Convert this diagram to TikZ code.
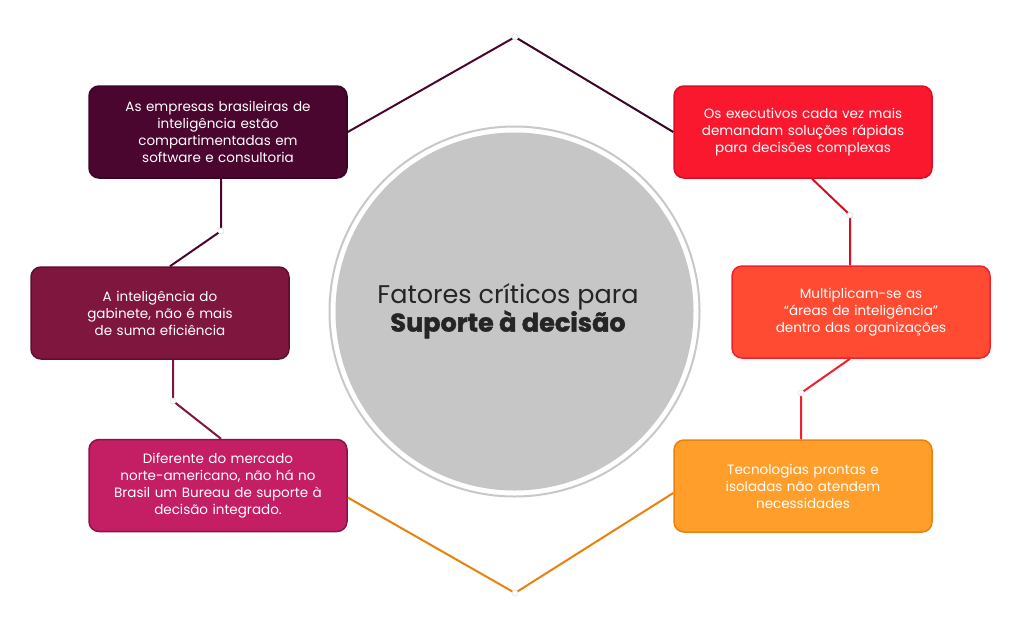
\documentclass[tikz,border=0pt]{standalone}
\usepackage{fontspec}
\setmainfont{Poppins}
\newfontfamily\heavyfont{Poppins}[UprightFont=*-Bold, FakeBold=1.6]
\usetikzlibrary{calc}
\definecolor{cA}{HTML}{4B0630}
\definecolor{cAb}{HTML}{3A0425}
\definecolor{cB}{HTML}{F9182E}
\definecolor{cBb}{HTML}{D80F22}
\definecolor{cC}{HTML}{7E163E}
\definecolor{cCb}{HTML}{5E0F2E}
\definecolor{cD}{HTML}{FF4B32}
\definecolor{cDb}{HTML}{F0202E}
\definecolor{cE}{HTML}{C41E64}
\definecolor{cEb}{HTML}{8A1545}
\definecolor{cF}{HTML}{FF9E2B}
\definecolor{cFb}{HTML}{E8820C}
\definecolor{ring}{HTML}{C8C8C8}
\definecolor{disk}{HTML}{C6C6C6}
\definecolor{ttl}{HTML}{252525}
\tikzset{
  factbox/.style={rounded corners=10pt, line width=1.5pt, minimum width=258pt, minimum height=92pt,
    text width=240pt, align=center, text=white, font=\fontsize{13.5}{17}\selectfont, inner sep=0pt},
  link/.style={line width=2pt},
  jdot/.style={circle, fill=white, draw=gray!25, line width=0.5pt, minimum size=6pt, inner sep=0pt}
}
\begin{document}
\begin{tikzpicture}[x=1pt,y=-1pt]
\useasboundingbox (0,0) rectangle (1024,627);
% circle
\draw[ring, line width=2pt, fill=white] (514.5,311.5) circle (185);
\fill[disk] (514.5,311.5) circle (179);
\node[text=ttl, align=center, font=\fontsize{25.5}{28}\selectfont] (title) at (508,311)
  {Fatores críticos para\\ {\heavyfont Suporte à decisão}};
% boxes
\node[factbox, fill=cA, draw=cAb] (b1) at (218,132) {As empresas brasileiras de\\ inteligência estão\\ compartimentadas em\\ software e consultoria};
\node[factbox, fill=cB, draw=cBb] (b2) at (803,132) {Os executivos cada vez mais\\ demandam soluções rápidas\\ para decisões complexas};
\node[factbox, fill=cC, draw=cCb] (b3) at (160,313) {A inteligência do\\ gabinete, não é mais\\ de suma eficiência};
\node[factbox, fill=cD, draw=cDb] (b4) at (861,312) {Multiplicam-se as\\ “áreas de inteligência”\\ dentro das organizações};
\node[factbox, fill=cE, draw=cEb] (b5) at (218,485.5) {Diferente do mercado\\ norte-americano, não há no\\ Brasil um Bureau de suporte à\\ decisão integrado.};
\node[factbox, fill=cF, draw=cFb] (b6) at (803,486) {Tecnologias prontas e\\ isoladas não atendem\\ necessidades};
% junction points
\coordinate (top) at (515,37);
\coordinate (bot) at (515,593);
\coordinate (d1) at (221,231);
\coordinate (d2) at (173,401);
\coordinate (d3) at (850,215);
\coordinate (d4) at (801,393);
% connectors
\draw[link, cA] (b1.east) -- (top);
\draw[link, cAb] (top) -- (b2.west);
\draw[link, cA] (b1.south -| d1) -- (d1) -- ($(b3.north)+(10,0)$);
\draw[link, cC] (b3.south -| d2) -- (d2) -- ($(b5.north)+(3,0)$);
\draw[link, cFb] ($(b5.east)+(0,12)$) -- (bot) -- ($(b6.west)+(0,7)$);
\draw[link, cBb] ($(b2.south)+(9,0)$) -- (d3) -- (b4.north -| d3);
\draw[link, cDb] ($(b4.south)+(-11,0)$) -- (d4) -- (b6.north -| d4);
% junction dots
\foreach \p in {top,bot,d1,d2,d3,d4} \node[jdot] at (\p) {};
\end{tikzpicture}
\end{document}
